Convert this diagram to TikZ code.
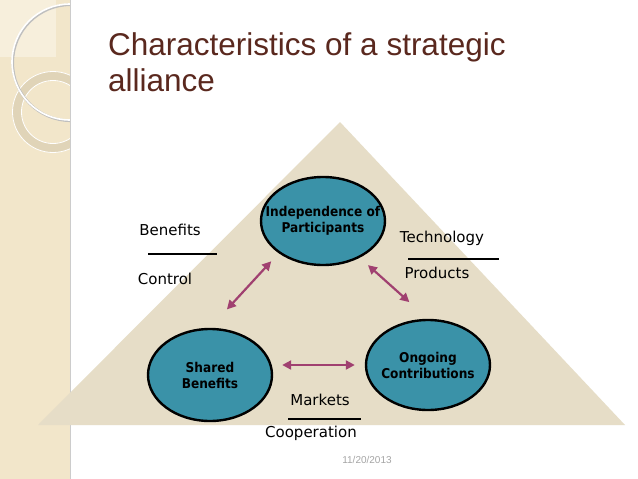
\documentclass[tikz,border=0pt]{standalone}
\usepackage{fontspec}
\setmainfont{DejaVu Sans}
\newfontfamily\titlefont{Liberation Sans}
\newfontfamily\condfont{DejaVu Sans Condensed}
\usetikzlibrary{shapes.geometric,arrows.meta}
\definecolor{strip}{RGB}{242,230,202}
\definecolor{stripl}{RGB}{247,239,220}
\definecolor{ringc}{RGB}{224,212,184}
\definecolor{tri}{RGB}{230,221,199}
\definecolor{teal}{RGB}{58,146,168}
\definecolor{titlec}{RGB}{90,40,30}
\definecolor{arrc}{RGB}{160,64,112}
\definecolor{datec}{RGB}{165,165,165}
\tikzset{
  ell/.style={ellipse, draw=black, line width=2.4pt, fill=teal, inner sep=0pt,
    minimum width=124pt, minimum height=90pt},
  etxt/.style={inner sep=0pt, align=center,
    font=\condfont\bfseries\fontsize{13.5}{16}\selectfont},
  lbl/.style={inner sep=0pt, font=\fontsize{15}{17}\selectfont},
  sep/.style={line width=1.8pt},
  arr/.style={{Triangle[length=9pt,width=9pt]}-{Triangle[length=9pt,width=9pt]}, line width=2.2pt, draw=arrc},
  ttl/.style={anchor=base west, inner sep=0pt, text=titlec, font=\titlefont\fontsize{31.5}{36}\selectfont}
}
\begin{document}
\begin{tikzpicture}[x=1pt,y=-1pt]
\useasboundingbox (0,0) rectangle (638,479);
\fill[white] (0,0) rectangle (638,479);
% left strip
\fill[strip] (0,0) rectangle (70,479);
\fill[stripl] (0,0) rectangle (56,57);
\begin{scope}
  \clip (0,0) rectangle (70,479);
  \draw[line width=9pt, ringc] (53,112) circle (36);
  \draw[line width=0.8pt, white] (53,112) circle (40.5);
  \draw[line width=0.8pt, white] (53,112) circle (31.5);
  \draw[line width=2.5pt, black!25] (70.8,62.8) circle (58);
  \draw[line width=1.6pt, white] (70,62) circle (58);
\end{scope}
\draw[line width=0.8pt, black!20] (70,0) -- (70,479);
% title
\node[ttl] (t1) at (108,55) {Characteristics of a strategic};
\node[ttl] (t2) at (108,91) {alliance};
% triangle
\fill[tri] (340,122) -- (625,425) -- (38,425) -- cycle;
% ellipses
\node[ell, minimum height=88pt] (ip) at (323,221) {};
\node[etxt] (ipt) at (ip) {Independence of\\Participants};
\node[ell, minimum height=92pt] (sb) at (210,375) {};
\node[etxt] (sbt) at (sb) {Shared\\Benefits};
\node[ell] (og) at (428,365) {};
\node[etxt] (ogt) at (og) {Ongoing\\Contributions};
% arrows
\draw[arr, shorten <=25pt, shorten >=11pt] (sb.north) -- (ip.216);
\draw[arr, shorten <=25pt, shorten >=11pt] (og.north) -- (ip.-45);
\draw[arr, shorten <=9pt, shorten >=10pt] (sb.east |- og.west) -- (og.west);
% labels
\node[lbl] (ben) at (170,230) {Benefits};
\node[lbl] (con) at (165,279) {Control};
\draw[sep] (148,254) -- (217,254);
\node[lbl] (tec) at (442,238) {Technology};
\node[lbl] (pro) at (437,273) {Products};
\draw[sep] (408,259) -- (499,259);
\node[lbl] (mar) at (320,400) {Markets};
\node[lbl] (coo) at (311,433) {Cooperation};
\draw[sep] (288,419) -- (361,419);
% date
\node[inner sep=0pt, text=datec, font=\titlefont\fontsize{10}{12}\selectfont] (dt) at (367,460) {11/20/2013};
\end{tikzpicture}
\end{document}
